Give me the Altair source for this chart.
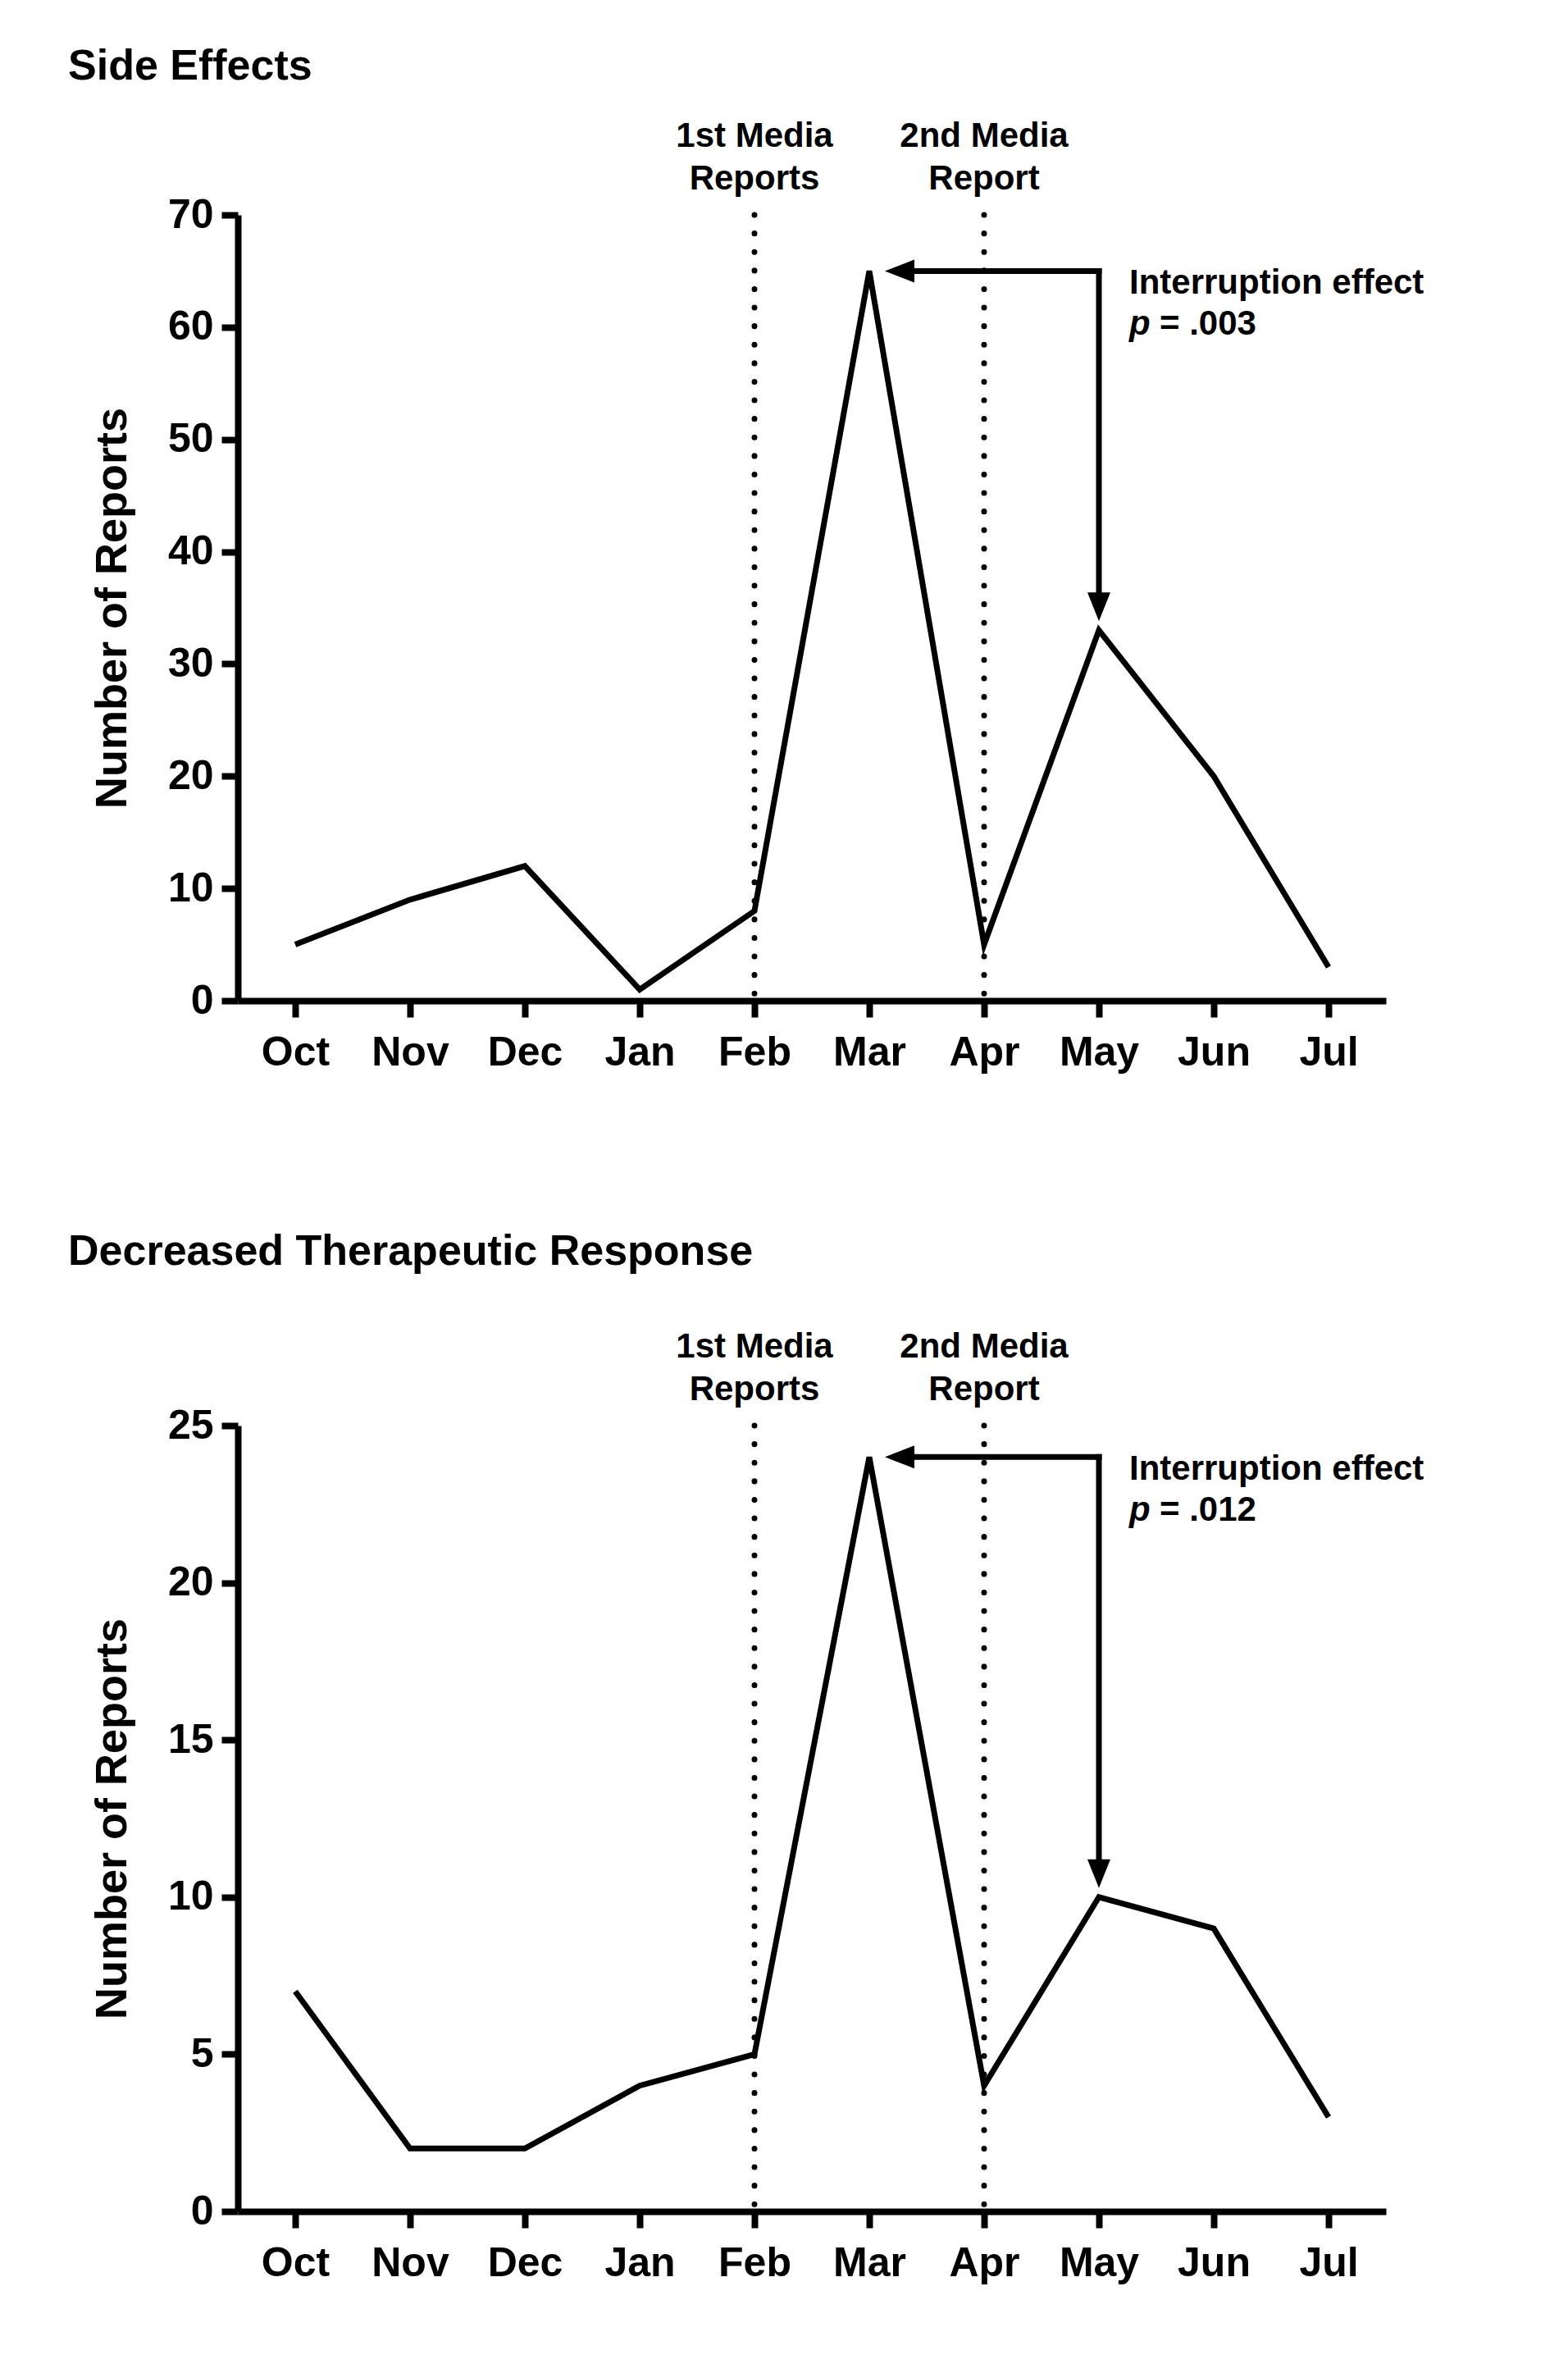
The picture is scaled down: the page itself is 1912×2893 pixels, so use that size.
import altair as alt
import pandas as pd

# ---------------- data ----------------
months = ["Oct", "Nov", "Dec", "Jan", "Feb", "Mar", "Apr", "May", "Jun", "Jul"]
side_effects = [5, 9, 12, 1, 8, 65, 5, 33, 20, 3]
decreased_response = [7, 2, 2, 4, 5, 24, 4, 10, 9, 3]

panel_titles = ["Side Effects", "Decreased Therapeutic Response"]
y_max = [70, 25]
y_step = [10, 5]
p_values = [".003", ".012"]

media_months = ["Feb", "Apr"]
media_line1 = ["1st Media", "2nd Media"]
media_line2 = ["Reports", "Report"]

arrow_from = "Mar"   # peak month (arrow points here)
arrow_to = "May"     # month the arrow comes down to

effect_label = "Interruption effect"
y_title = "Number of Reports"

FONT = "Liberation Sans"
W = 1400
H = 958

xs = alt.Scale(domain=months, type="point", padding=0.5)
x_axis = alt.Axis(title=None, labelAngle=0, labelAlign="center",
                  labelBaseline="top", labelPadding=18)

# custom arrowhead paths: tip at the origin
HEAD_DOWN = "M0,0L-1,-2.5L1,-2.5Z"
HEAD_LEFT = "M0,0L2.57,-1L2.57,1Z"


def xenc(field):
    return alt.X(field, type="nominal", scale=xs, sort=months, axis=x_axis)


def panel(title, values, ymax, step, pval, title_offset):
    df = pd.DataFrame({"month": months, "count": values})
    v_from = values[months.index(arrow_from)]
    v_to = values[months.index(arrow_to)]
    ys = alt.Scale(domain=[0, ymax], nice=False, zero=True)
    y_axis = alt.Axis(values=list(range(0, ymax + 1, step)),
                      title=y_title, titleFontSize=54,
                      titleX=-137, titleY=H / 2, titleAngle=-90,
                      titleBaseline="alphabetic", titleAlign="center",
                      labelAlign="right", labelBaseline="middle",
                      labelPadding=10)

    def yenc(field):
        return alt.Y(field, type="quantitative", scale=ys, axis=y_axis)

    line = alt.Chart(df).mark_line(color="black", strokeWidth=7).encode(
        x=xenc("month"), y=yenc("count"))

    media_df = pd.DataFrame({"month": media_months, "l1": media_line1, "l2": media_line2})
    dotted = alt.Chart(media_df).mark_rule(
        color="black", strokeWidth=7, strokeDash=[0.1, 22.5], strokeCap="round"
    ).encode(x=xenc("month"))

    lab1 = alt.Chart(media_df).mark_text(
        font=FONT, fontSize=42, fontWeight="bold", color="black",
        align="center", baseline="middle"
    ).encode(x=xenc("month"), y=alt.value(-96), text="l1:N")
    lab2 = alt.Chart(media_df).mark_text(
        font=FONT, fontSize=42, fontWeight="bold", color="black",
        align="center", baseline="middle"
    ).encode(x=xenc("month"), y=alt.value(-44), text="l2:N")

    arr_df = pd.DataFrame({"m1": [arrow_from], "m2": [arrow_to],
                           "v1": [v_from], "v2": [v_to]})
    h_shaft = alt.Chart(arr_df).mark_rule(
        color="black", strokeWidth=7, strokeCap="square", xOffset=40
    ).encode(x=xenc("m1"), x2="m2:N", y=yenc("v1"))
    v_shaft = alt.Chart(arr_df).mark_rule(
        color="black", strokeWidth=7, strokeCap="square", y2Offset=-30
    ).encode(x=xenc("m2"), y=yenc("v1"), y2="v2:Q")
    h_head = alt.Chart(arr_df).mark_point(
        shape=HEAD_LEFT, size=784, filled=True, opacity=1, color="black",
        strokeWidth=0, xOffset=19
    ).encode(x=xenc("m1"), y=yenc("v1"))
    v_head = alt.Chart(arr_df).mark_point(
        shape=HEAD_DOWN, size=784, filled=True, opacity=1, color="black",
        strokeWidth=0, yOffset=-11
    ).encode(x=xenc("m2"), y=yenc("v2"))

    txt_df = pd.DataFrame({"m": [arrow_to], "v": [v_from], "t1": [effect_label],
                           "p": ["p"], "t2": ["= " + pval]})
    t_effect = alt.Chart(txt_df).mark_text(
        font=FONT, fontSize=42, fontWeight="bold", color="black",
        align="left", baseline="middle", dx=37, dy=15
    ).encode(x=xenc("m"), y=yenc("v"), text="t1:N")
    t_p = alt.Chart(txt_df).mark_text(
        font=FONT, fontSize=42, fontWeight="bold", fontStyle="italic", color="black",
        align="left", baseline="middle", dx=37, dy=65
    ).encode(x=xenc("m"), y=yenc("v"), text="p:N")
    t_pv = alt.Chart(txt_df).mark_text(
        font=FONT, fontSize=42, fontWeight="bold", color="black",
        align="left", baseline="middle", dx=74, dy=65
    ).encode(x=xenc("m"), y=yenc("v"), text="t2:N")

    return alt.layer(
        line, dotted, h_shaft, v_shaft, h_head, v_head,
        lab1, lab2, t_effect, t_p, t_pv
    ).properties(
        width=W, height=H,
        title=alt.TitleParams(text=title, anchor="start", frame="group", dx=-207,
                              offset=title_offset, fontSize=52, font=FONT,
                              fontWeight="bold", color="black"),
    )


top = panel(panel_titles[0], side_effects, y_max[0], y_step[0], p_values[0], 37)
bottom = panel(panel_titles[1], decreased_response, y_max[1], y_step[1], p_values[1], 68)

chart = alt.vconcat(top, bottom, spacing=192).properties(
    padding={"left": 75, "top": 47, "right": 20, "bottom": 20},
    background="white",
).configure_view(stroke=None).configure_axis(
    grid=False,
    domainColor="black", domainWidth=8,
    tickColor="black", tickWidth=8, tickSize=20,
    labelFont=FONT, labelFontSize=50, labelFontWeight="bold", labelColor="black",
    titleFont=FONT, titleFontWeight="bold", titleColor="black",
)

chart.save("out.html", embed_options={"renderer": "svg", "actions": False})
